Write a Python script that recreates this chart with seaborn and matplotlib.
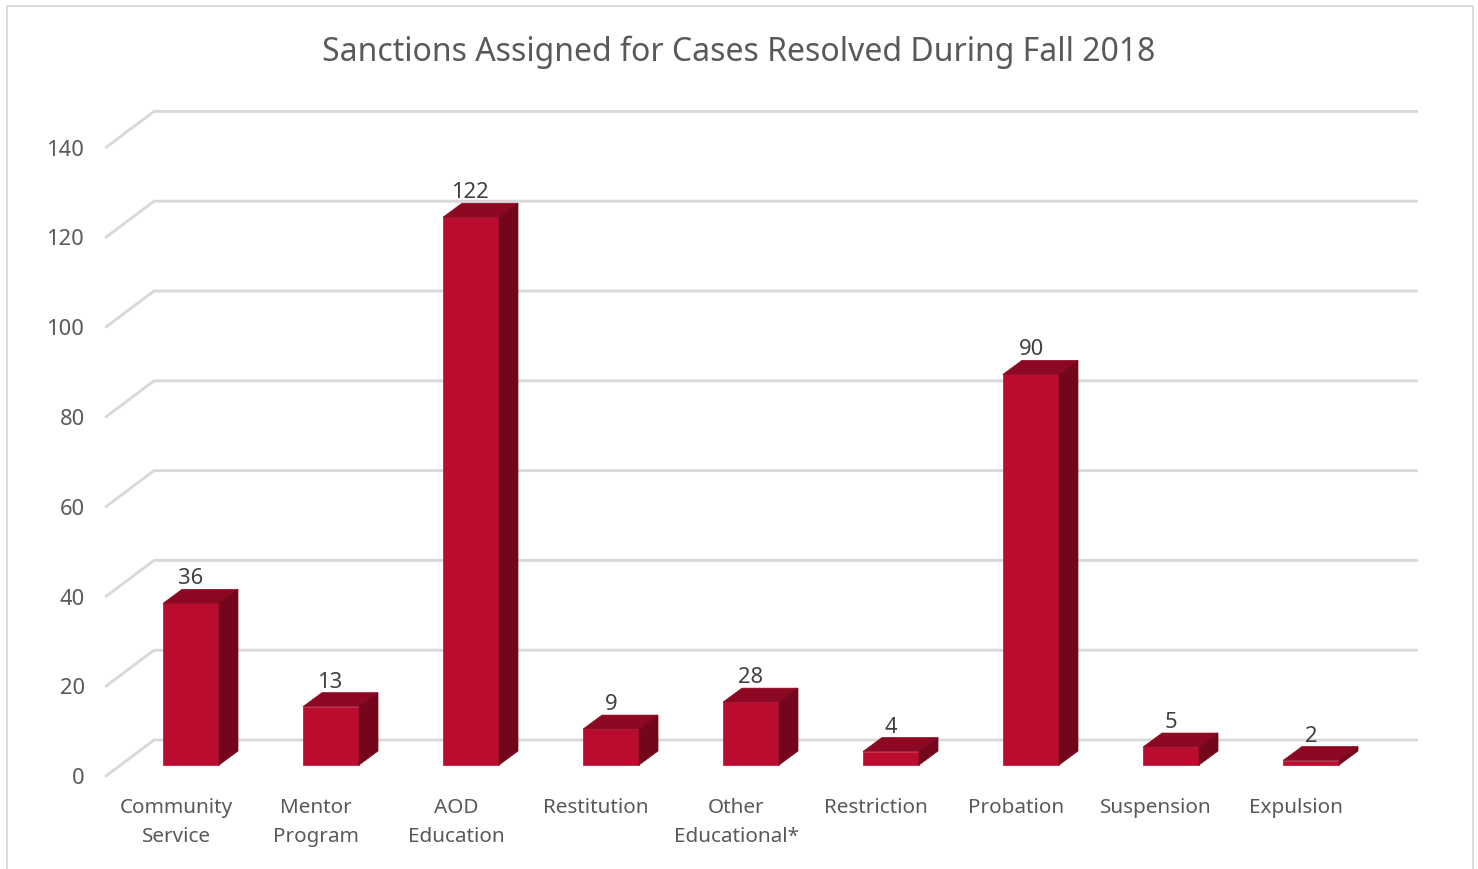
import matplotlib
matplotlib.use("Agg")
import matplotlib.pyplot as plt
import seaborn as sns
from matplotlib.patches import Rectangle

# Values
categories = ["Community\nService", "Mentor\nProgram", "AOD\nEducation", "Restitution",
              "Other\nEducational*", "Restriction", "Probation", "Suspension", "Expulsion"]
bar_heights = [36, 13, 122, 8, 14, 3, 87, 4, 1]  # drawn heights, some differ from the printed labels
bar_labels = ["36", "13", "122", "9", "28", "4", "90", "5", "2"]
y_ticks = [0, 20, 40, 60, 80, 100, 120, 140]
title = "Sanctions Assigned for Cases Resolved During Fall 2018"

W, H = 1478, 869
FRONT = "#BA0C2E"
TOP = "#8D0822"
SIDE = "#74061B"
GRID = "#D9D9D9"
TEXT = "#595959"

sns.set_style("white")
plt.rcParams["font.family"] = ["Noto Sans", "DejaVu Sans"]

# axes run 4 units below zero so the shifted tick labels stay in view
fig = plt.figure(figsize=(W / 100, H / 100), dpi=100)
ax = fig.add_axes([121 / W, (H - 765 - 4 * 4.49) / H, 1260 / W, (628.6 + 4 * 4.49) / H])
ax.patch.set_alpha(0)

sns.barplot(x=list(range(len(bar_heights))), y=bar_heights, color=FRONT, saturation=1,
            width=0.4, ax=ax, zorder=3)

# Depth of the fake 3D box, in data units (140 px per category, 4.49 px per unit)
bar_dx, bar_dy = 19 / 140, 14 / 4.49
back_dx, back_dy = 33 / 140, 25 / 4.49
front_dx, front_dy = -15 / 140, -11 / 4.49

# Gridlines run from the front wall to the back wall and along it
for t in y_ticks:
    ax.plot([-0.5 + front_dx, -0.5 + back_dx, 8.52 + back_dx],
            [t + front_dy, t + back_dy, t + back_dy],
            color=GRID, lw=2.1, clip_on=False, zorder=1,
            solid_joinstyle="round", solid_capstyle="round")

# Top and side faces of each bar
for bar in ax.containers[0]:
    x0, w, h = bar.get_x(), bar.get_width(), bar.get_height()
    x1 = x0 + w
    bar.set_edgecolor(FRONT)
    bar.set_linewidth(0.5)
    ax.fill([x0, x1, x1 + bar_dx, x0 + bar_dx], [h, h, h + bar_dy, h + bar_dy],
            color=TOP, lw=0.5, zorder=3, clip_on=False)
    ax.fill([x1, x1 + bar_dx, x1 + bar_dx, x1], [0, bar_dy, h + bar_dy, h],
            color=SIDE, lw=0.5, zorder=3, clip_on=False)

ax.bar_label(ax.containers[0], labels=bar_labels, padding=10, fontsize=15.8,
             color="#404040", zorder=4)

ax.set_xticks([i + front_dx for i in range(len(categories))])
ax.set_xticklabels(categories, fontsize=14.9, color=TEXT, linespacing=1.6)
ax.set_yticks([t - 2.5 for t in y_ticks])
ax.set_yticklabels([str(t) for t in y_ticks], fontsize=15.8, color=TEXT)
ax.tick_params(axis="x", length=0, pad=10.5)
ax.tick_params(axis="y", length=0, pad=26)
ax.set_xlabel("")
ax.set_ylabel("")
ax.set_xlim(-0.5, 8.5)
ax.set_ylim(-4, 140)
sns.despine(ax=ax, left=True, bottom=True)

fig.text(739 / W, 1 - 52 / H, title, ha="center", va="center", fontsize=23, color=TEXT)

# Outer chart border
fig.add_artist(Rectangle((7 / W, -0.01), 1466 / W, 1.01 - 6 / H, transform=fig.transFigure,
                         fill=False, edgecolor=GRID, lw=1.3))

fig.savefig("out.png", dpi=100)
